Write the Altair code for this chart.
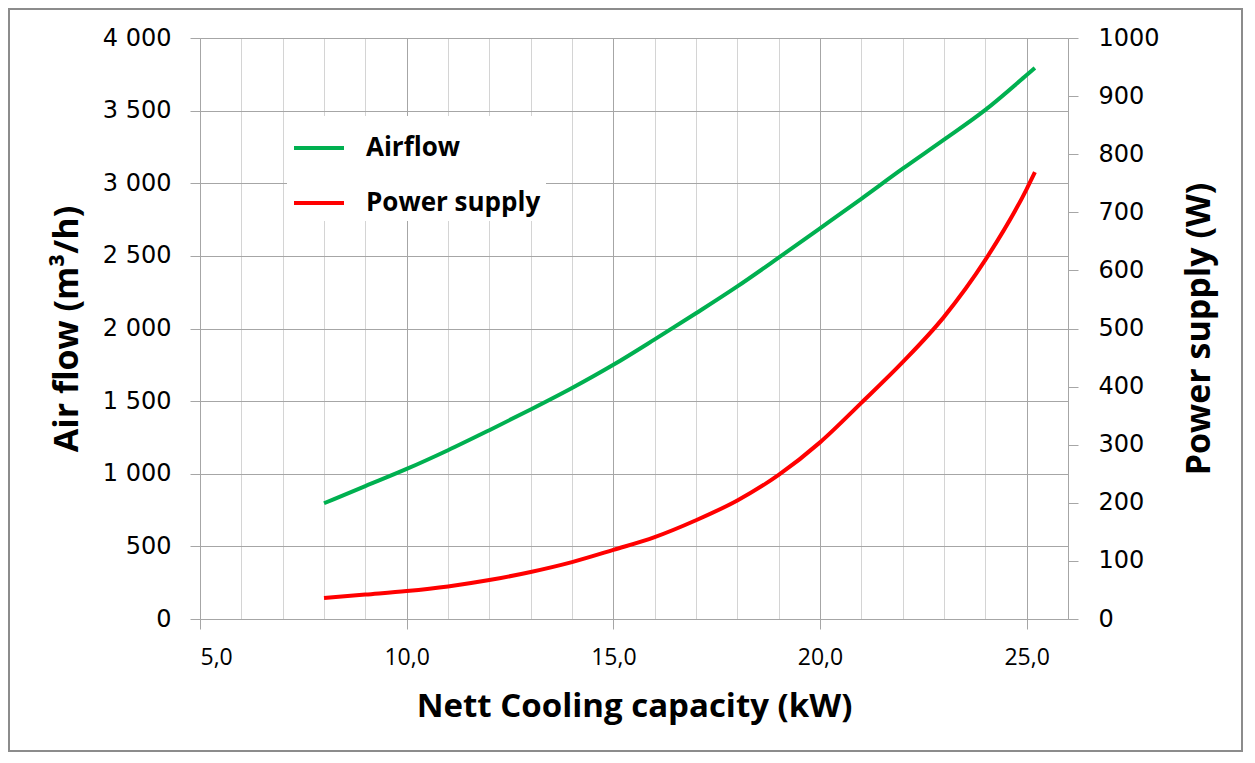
import altair as alt
import pandas as pd

capacity = [8, 9, 10, 11, 12, 13, 14, 15, 16, 17, 18, 19, 20, 21, 22, 23, 24, 25, 25.2]
airflow = [797, 915, 1033, 1162, 1300, 1442, 1590, 1750, 1925, 2105, 2290, 2488, 2690, 2893, 3100, 3300, 3505, 3745, 3794]
power = [36, 42, 48, 56, 67, 81, 98, 119, 141, 170, 204, 248, 304, 372, 442, 520, 618, 740, 769]
series_names = ["Airflow", "Power supply"]
series_colors = ["#00B050", "#FF0000"]
x_ticks = list(range(5, 27))
left_ticks = list(range(0, 4001, 500))
right_ticks = list(range(0, 1001, 100))

df_air = pd.DataFrame({"cap": capacity, "val": airflow, "series": series_names[0]})
df_pow = pd.DataFrame({"cap": capacity, "val": power, "series": series_names[1]})

MAJOR = "#a6a6a6"
MINOR = "#d4d4d4"
TITLE_FONT = "Open Sans"
NUM_FONT = "DejaVu Sans"

color = alt.Color(
    "series:N",
    scale=alt.Scale(domain=series_names, range=series_colors),
    legend=alt.Legend(
        title=None, orient="none", legendX=87, legendY=78,
        fillColor="white", padding=5, symbolType="stroke", symbolSize=2500,
        symbolStrokeWidth=4, labelFont=TITLE_FONT, labelFontWeight="bold",
        labelFontSize=26, labelColor="black", labelOffset=20, rowPadding=15,
        labelLimit=400,
    ),
)

x_enc = alt.X(
    "cap:Q",
    scale=alt.Scale(domain=[5, 26], nice=False, zero=False),
    title="Nett Cooling capacity (kW)",
    axis=alt.Axis(
        values=x_ticks,
        grid=True,
        gridColor={"condition": {"test": "datum.value % 5 === 0", "value": MAJOR}, "value": MINOR},
        tickColor={"condition": {"test": "datum.value % 5 === 0", "value": MAJOR}, "value": "transparent"},
        tickSize=10,
        domainColor=MAJOR,
        labelExpr="datum.value % 5 === 0 ? replace(format(datum.value, '.1f'), '.', ',') : ''",
        labelFont=TITLE_FONT, labelFontSize=23, labelColor="black", labelPadding=17,
        titleFont=TITLE_FONT, titleFontWeight="bold", titleFontSize=33, titleColor="black",
        titlePadding=21,
    ),
)

air = alt.Chart(df_air).mark_line(strokeWidth=4, interpolate="monotone").encode(
    x=x_enc,
    y=alt.Y(
        "val:Q",
        scale=alt.Scale(domain=[0, 4000], nice=False),
        title="Air flow (m³/h)",
        axis=alt.Axis(
            orient="left", values=left_ticks, grid=True, gridColor=MAJOR,
            tickColor=MAJOR, tickSize=10, domainColor=MAJOR,
            labelExpr="replace(format(datum.value, ',d'), ',', ' ')",
            labelFont=NUM_FONT, labelFontSize=24, labelColor="black", labelPadding=19,
            titleFont=TITLE_FONT, titleFontWeight="bold", titleFontSize=34, titleColor="black",
            titlePadding=18,
        ),
    ),
    color=color,
)

pw = alt.Chart(df_pow).mark_line(strokeWidth=4, interpolate="monotone").encode(
    x=x_enc,
    y=alt.Y(
        "val:Q",
        scale=alt.Scale(domain=[0, 1000], nice=False),
        title="Power supply (W)",
        axis=alt.Axis(
            orient="right", values=right_ticks, grid=False, format="d",
            tickColor=MAJOR, tickSize=10, domainColor=MAJOR,
            labelFont=NUM_FONT, labelFontSize=24, labelColor="black", labelPadding=20,
            titleFont=TITLE_FONT, titleFontWeight="bold", titleFontSize=34, titleColor="black",
            titleAngle=270, titlePadding=57,
        ),
    ),
    color=color,
)

border = alt.Chart(alt.Data(values=[{}])).mark_rect(
    fill="transparent", stroke="#8c8c8c", strokeWidth=2
).encode(
    x=alt.value(-191), x2=alt.value(1042), y=alt.value(-29), y2=alt.value(713)
)

chart = alt.layer(border, air, pw).resolve_scale(y="independent").properties(
    width=868, height=581,
    autosize=alt.AutoSizeParams(type="none"),
    padding={"left": 192, "top": 30, "right": 176, "bottom": 134},
    background="white",
).configure_view(stroke=None)

chart.save("out.html", embed_options={"renderer": "svg", "actions": False})
